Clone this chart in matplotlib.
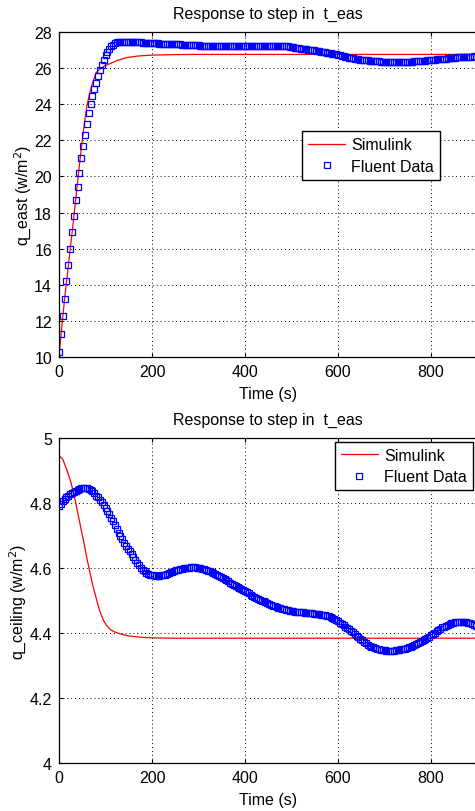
import numpy as np
import matplotlib
matplotlib.use("Agg")
import matplotlib.pyplot as plt

plt.rcParams['font.family'] = ['Liberation Sans', 'DejaVu Sans']

# ========== data ==========
# Fluent samples every 4 s, 0..900 s
fluent_t = np.arange(0, 904, 4)

east_fluent = [
    10.30, 11.30, 12.25, 13.20, 14.20, 15.10, 16.00, 16.90, 17.80, 18.70,   # 0-36
    19.40, 20.20, 21.00, 21.70, 22.30, 22.90, 23.50, 24.00, 24.45, 24.85,   # 40-76
    25.20, 25.55, 25.88, 26.17, 26.45, 26.70, 26.92, 27.08, 27.20, 27.30,   # 80-116
    27.37, 27.42, 27.44, 27.46, 27.47, 27.47, 27.47, 27.47, 27.46, 27.46,   # 120-156
    27.45, 27.45, 27.44, 27.43, 27.42, 27.41, 27.40, 27.40, 27.39, 27.39,   # 160-196
    27.38, 27.38, 27.37, 27.37, 27.36, 27.36, 27.35, 27.35, 27.34, 27.34,   # 200-236
    27.33, 27.33, 27.32, 27.32, 27.31, 27.31, 27.30, 27.30, 27.29, 27.29,   # 240-276
    27.28, 27.28, 27.27, 27.27, 27.26, 27.26, 27.25, 27.25, 27.24, 27.24,   # 280-316
    27.23, 27.23, 27.22, 27.22, 27.22, 27.21, 27.21, 27.21, 27.20, 27.20,   # 320-356
    27.20, 27.20, 27.20, 27.20, 27.20, 27.20, 27.20, 27.20, 27.20, 27.20,   # 360-396
    27.20, 27.20, 27.20, 27.20, 27.20, 27.20, 27.20, 27.20, 27.20, 27.20,   # 400-436
    27.20, 27.21, 27.21, 27.22, 27.22, 27.22, 27.22, 27.22, 27.22, 27.22,   # 440-476
    27.22, 27.21, 27.21, 27.20, 27.19, 27.17, 27.15, 27.13, 27.12, 27.10,   # 480-516
    27.08, 27.07, 27.05, 27.04, 27.02, 27.01, 26.99, 26.98, 26.96, 26.95,   # 520-556
    26.93, 26.91, 26.89, 26.88, 26.86, 26.84, 26.82, 26.80, 26.78, 26.76,   # 560-596
    26.73, 26.71, 26.68, 26.66, 26.63, 26.61, 26.58, 26.56, 26.54, 26.52,   # 600-636
    26.50, 26.49, 26.47, 26.46, 26.45, 26.44, 26.43, 26.42, 26.41, 26.40,   # 640-676
    26.39, 26.38, 26.37, 26.36, 26.36, 26.35, 26.34, 26.34, 26.33, 26.33,   # 680-716
    26.32, 26.32, 26.32, 26.32, 26.32, 26.33, 26.33, 26.34, 26.34, 26.35,   # 720-756
    26.36, 26.37, 26.38, 26.38, 26.39, 26.40, 26.41, 26.42, 26.43, 26.44,   # 760-796
    26.45, 26.46, 26.47, 26.48, 26.49, 26.50, 26.51, 26.52, 26.53, 26.54,   # 800-836
    26.55, 26.56, 26.57, 26.58, 26.59, 26.60, 26.61, 26.62, 26.62, 26.63,   # 840-876
    26.63, 26.64, 26.64, 26.65, 26.65, 26.65,                               # 880-900
]

ceiling_fluent = [
    4.792, 4.798, 4.805, 4.811, 4.817, 4.822, 4.827, 4.831, 4.835, 4.838,   # 0-36
    4.841, 4.843, 4.845, 4.846, 4.846, 4.845, 4.843, 4.840, 4.836, 4.830,   # 40-76
    4.823, 4.817, 4.810, 4.802, 4.793, 4.784, 4.775, 4.766, 4.755, 4.744,   # 80-116
    4.733, 4.721, 4.709, 4.698, 4.688, 4.678, 4.669, 4.660, 4.651, 4.642,   # 120-156
    4.633, 4.624, 4.616, 4.608, 4.601, 4.595, 4.590, 4.586, 4.583, 4.580,   # 160-196
    4.578, 4.577, 4.576, 4.576, 4.576, 4.577, 4.578, 4.580, 4.582, 4.584,   # 200-236
    4.587, 4.589, 4.591, 4.593, 4.595, 4.597, 4.598, 4.599, 4.600, 4.601,   # 240-276
    4.601, 4.602, 4.602, 4.602, 4.601, 4.601, 4.600, 4.598, 4.596, 4.594,   # 280-316
    4.592, 4.590, 4.588, 4.585, 4.582, 4.579, 4.576, 4.573, 4.570, 4.567,   # 320-356
    4.563, 4.559, 4.555, 4.551, 4.548, 4.544, 4.541, 4.538, 4.535, 4.532,   # 360-396
    4.529, 4.525, 4.522, 4.518, 4.515, 4.512, 4.509, 4.506, 4.503, 4.500,   # 400-436
    4.497, 4.494, 4.491, 4.488, 4.486, 4.484, 4.482, 4.480, 4.478, 4.476,   # 440-476
    4.474, 4.473, 4.471, 4.470, 4.469, 4.468, 4.467, 4.466, 4.465, 4.465,   # 480-516
    4.464, 4.464, 4.463, 4.463, 4.462, 4.461, 4.461, 4.460, 4.459, 4.458,   # 520-556
    4.457, 4.456, 4.455, 4.454, 4.452, 4.451, 4.449, 4.446, 4.443, 4.440,   # 560-596
    4.436, 4.432, 4.428, 4.424, 4.420, 4.416, 4.412, 4.407, 4.402, 4.397,   # 600-636
    4.392, 4.387, 4.382, 4.377, 4.372, 4.368, 4.364, 4.361, 4.358, 4.356,   # 640-676
    4.354, 4.352, 4.350, 4.349, 4.348, 4.347, 4.346, 4.346, 4.346, 4.346,   # 680-716
    4.346, 4.347, 4.348, 4.349, 4.350, 4.351, 4.352, 4.354, 4.356, 4.358,   # 720-756
    4.360, 4.362, 4.365, 4.368, 4.371, 4.374, 4.377, 4.381, 4.385, 4.389,   # 760-796
    4.393, 4.397, 4.401, 4.405, 4.409, 4.413, 4.417, 4.420, 4.423, 4.426,   # 800-836
    4.428, 4.430, 4.432, 4.433, 4.434, 4.435, 4.435, 4.435, 4.434, 4.433,   # 840-876
    4.432, 4.430, 4.428, 4.425, 4.422, 4.419,                               # 880-900
]

# Simulink response
east_sim_t = [0, 5, 10, 15, 20, 25, 30, 35, 40, 45, 50, 55, 60, 65, 70, 75,
              80, 90, 100, 110, 125, 145, 170, 200, 250, 300, 900]
east_sim = [10.1, 11.4, 12.7, 13.9, 15.0, 16.2, 17.3, 18.5, 19.7, 20.9, 22.0,
            23.0, 23.9, 24.5, 25.0, 25.4, 25.75, 26.0, 26.15, 26.25, 26.42,
            26.58, 26.67, 26.72, 26.75, 26.76, 26.76]

ceiling_sim_t = [0, 8, 16, 24, 30, 36, 42, 48, 54, 60, 66, 72, 78, 84, 90, 96,
                 102, 110, 120, 135, 150, 175, 200, 250, 900]
ceiling_sim = [4.946, 4.935, 4.905, 4.872, 4.840, 4.800, 4.758, 4.716, 4.675,
               4.630, 4.590, 4.550, 4.518, 4.485, 4.458, 4.438, 4.424, 4.411,
               4.403, 4.396, 4.391, 4.387, 4.385, 4.384, 4.384]

xticks = [0, 200, 400, 600, 800]
east_yticks = [10, 12, 14, 16, 18, 20, 22, 24, 26, 28]
ceiling_yticks = [4, 4.2, 4.4, 4.6, 4.8, 5]
ceiling_yticklabels = ["4", "4.2", "4.4", "4.6", "4.8", "5"]

# ========== figure ==========
W, H = 475, 812
fig = plt.figure(figsize=(W / 100, H / 100), dpi=100)
ax_w = 418.5 / W
ax1 = fig.add_axes([59 / W, 454 / H, ax_w, 325 / H])
ax2 = fig.add_axes([59 / W, 48 / H, ax_w, 325 / H])

FS = 11.5


def style(ax, yticks, ylabel, ylim, yticklabels=None):
    ax.set_xlim(0, 900)
    ax.set_ylim(*ylim)
    ax.set_xticks(xticks)
    ax.set_yticks(yticks)
    if yticklabels is not None:
        ax.set_yticklabels(yticklabels)
    ax.tick_params(direction='in', length=3, width=0.8, labelsize=FS,
                   top=True, right=True, pad=5)
    ax.grid(True, linestyle=(0, (1, 3)), color='black', linewidth=0.7)
    for s in ax.spines.values():
        s.set_linewidth(0.9)
    ax.set_title("Response to step in  t_eas", fontsize=FS, pad=10)
    ax.set_xlabel("Time (s)", fontsize=FS, labelpad=5)
    ax.set_ylabel(ylabel, fontsize=FS, labelpad=1)


mk = dict(linestyle='none', marker='s', markersize=5, markerfacecolor='none',
          markeredgecolor='blue', markeredgewidth=0.9, label='Fluent Data')
leg = dict(borderaxespad=0, fontsize=FS, fancybox=False, framealpha=1,
           edgecolor='black', handlelength=2.3, handletextpad=0.4,
           borderpad=0.38, labelspacing=0.4)

ax1.plot(east_sim_t, east_sim, color='red', linewidth=0.9, label='Simulink')
ax1.plot(fluent_t, east_fluent, **mk)
style(ax1, east_yticks, "q_east (w/m$^2$)", (10, 28))
ax1.legend(loc='upper left', bbox_to_anchor=(0.581, 0.695), **leg)

ax2.plot(ceiling_sim_t, ceiling_sim, color='red', linewidth=0.9, label='Simulink')
ax2.plot(fluent_t, ceiling_fluent, **mk)
style(ax2, ceiling_yticks, "q_ceiling (w/m$^2$)", (4, 5), ceiling_yticklabels)
ax2.legend(loc='upper right', bbox_to_anchor=(0.989, 0.988), **leg)

fig.savefig("out.png", dpi=100)
